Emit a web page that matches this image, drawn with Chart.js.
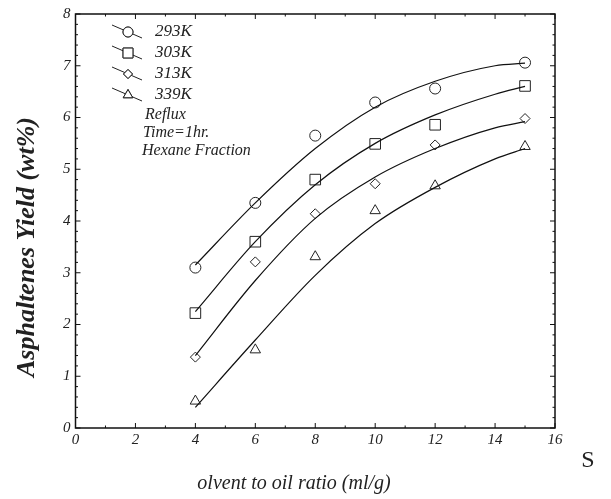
<!DOCTYPE html>
<html>
<head>
<meta charset="utf-8">
<script src="https://cdn.jsdelivr.net/npm/chart.js@4.4.0/dist/chart.umd.min.js"></script>
<style>
  html, body { margin: 0; padding: 0; background: #fff; }
  #wrap { width: 611px; height: 499px; }
</style>
</head>
<body>
<div id="wrap"><canvas id="chart"></canvas></div>
<script>
// measured points
var ratios = [4, 6, 8, 10, 12, 15]
var y293 = [3.1, 4.35, 5.65, 6.29, 6.56, 7.06]
var y303 = [2.22, 3.6, 4.8, 5.49, 5.86, 6.61]
var y313 = [1.37, 3.21, 4.14, 4.72, 5.47, 5.98]
var y339 = [0.52, 1.51, 3.31, 4.2, 4.68, 5.44]

// fitted curves
var fitX = [4, 6, 8, 10, 12, 14, 15]
var fit293 = [3.15, 4.35, 5.4, 6.2, 6.7, 7.0, 7.05]
var fit303 = [2.25, 3.6, 4.7, 5.5, 6.05, 6.45, 6.6]
var fit313 = [1.4, 2.85, 4.05, 4.85, 5.4, 5.8, 5.92]
var fit339 = [0.4, 1.7, 2.95, 3.95, 4.65, 5.2, 5.4]

var seriesNames = ["293K", "303K", "313K", "339K"]
var markers = ["circle", "rect", "rectRot", "triangle"]
var markerSizes = [5.5, 7.5, 5, 6]
var notes = ["Reflux", "Time=1hr.", "Hexane Fraction"]

function toXY(xs, ys) {
  return xs.map((x, i) => ({x: x, y: ys[i]}))
}

var pointSets = [y293, y303, y313, y339]
var fitSets = [fit293, fit303, fit313, fit339]
var datasets = []
fitSets.forEach((f, i) => {
  datasets.push({
    label: seriesNames[i] + " fit",
    data: toXY(fitX, f),
    showLine: true,
    borderColor: "#111",
    borderWidth: 1.2,
    pointRadius: 0,
    cubicInterpolationMode: "monotone"
  })
})
pointSets.forEach((p, i) => {
  datasets.push({
    label: seriesNames[i],
    data: toXY(ratios, p),
    showLine: false,
    pointStyle: markers[i],
    pointRadius: markerSizes[i],
    pointBackgroundColor: "#fff",
    pointBorderColor: "#222",
    pointBorderWidth: 1
  })
})

var serif = "'Liberation Serif', 'DejaVu Serif', serif"

var decorations = {
  id: "decorations",
  afterDraw(chart) {
    var ctx = chart.ctx
    var a = chart.chartArea
    var xs = chart.scales.x, ys = chart.scales.y
    ctx.save()
    // frame
    ctx.strokeStyle = "#111"
    ctx.lineWidth = 1.5
    ctx.strokeRect(a.left, a.top, a.right - a.left, a.bottom - a.top)
    // inward ticks
    ctx.lineWidth = 1
    for (var v = 0; v <= 8.001; v += 0.2) {
      var py = ys.getPixelForValue(v)
      var major = Math.abs(v - Math.round(v)) < 0.01
      var len = major ? 5 : 2.5
      ctx.beginPath()
      ctx.moveTo(a.left, py); ctx.lineTo(a.left + len, py)
      ctx.moveTo(a.right, py); ctx.lineTo(a.right - len, py)
      ctx.stroke()
    }
    for (var u = 0; u <= 16.001; u += 1) {
      var px = xs.getPixelForValue(u)
      var len2 = (u % 2 == 0) ? 5 : 2.5
      ctx.beginPath()
      ctx.moveTo(px, a.bottom); ctx.lineTo(px, a.bottom - len2)
      ctx.moveTo(px, a.top); ctx.lineTo(px, a.top + len2)
      ctx.stroke()
    }
    // legend
    ctx.font = "italic 17px " + serif
    ctx.fillStyle = "#222"
    ctx.textBaseline = "middle"
    var rowY = [32, 53, 74, 95]
    rowY.forEach((ry, i) => {
      ctx.strokeStyle = "#222"
      ctx.lineWidth = 1
      ctx.beginPath()
      ctx.moveTo(112, ry - 7); ctx.lineTo(142, ry + 6)
      ctx.stroke()
      Chart.helpers.drawPoint(ctx, {
        pointStyle: markers[i], radius: markerSizes[i] - 0.5, rotation: 0, borderWidth: 1
      }, 128, ry)
      ctx.fillStyle = "#fff"
      ctx.fill()
      ctx.stroke()
      ctx.fillStyle = "#222"
      ctx.fillText(seriesNames[i], 155, ry)
    })
    ctx.font = "italic 16px " + serif
    var noteY = [115, 133, 151]
    var noteX = [145, 143, 142]
    notes.forEach((n, i) => ctx.fillText(n, noteX[i], noteY[i]))
    // axis titles
    ctx.font = "italic 20px " + serif
    ctx.textAlign = "center"
    ctx.fillText("olvent to oil ratio (ml/g)", 294, 484)
    ctx.font = "24px " + serif
    ctx.fillText("S", 588, 461)
    ctx.translate(27, 247)
    ctx.rotate(-Math.PI / 2)
    ctx.font = "bold italic 26px " + serif
    ctx.fillText("Asphaltenes Yield (wt%)", 0, 0)
    ctx.restore()
  }
}

new Chart(document.getElementById("chart"), {
  type: "scatter",
  data: { datasets: datasets },
  options: {
    responsive: true,
    maintainAspectRatio: false,
    animation: false,
    layout: { padding: { left: 58, top: 14, right: 56, bottom: 47 } },
    plugins: {
      legend: { display: false },
      tooltip: { enabled: false }
    },
    scales: {
      x: {
        type: "linear",
        min: 0, max: 16,
        grid: { display: false, drawTicks: false },
        border: { display: false },
        ticks: {
          stepSize: 2,
          color: "#222",
          padding: 3,
          font: { family: serif, style: "italic", size: 15 }
        }
      },
      y: {
        type: "linear",
        min: 0, max: 8,
        grid: { display: false, drawTicks: false },
        border: { display: false },
        ticks: {
          stepSize: 1,
          color: "#222",
          padding: 5,
          font: { family: serif, style: "italic", size: 15 }
        }
      }
    }
  },
  plugins: [decorations]
})
</script>
</body>
</html>
